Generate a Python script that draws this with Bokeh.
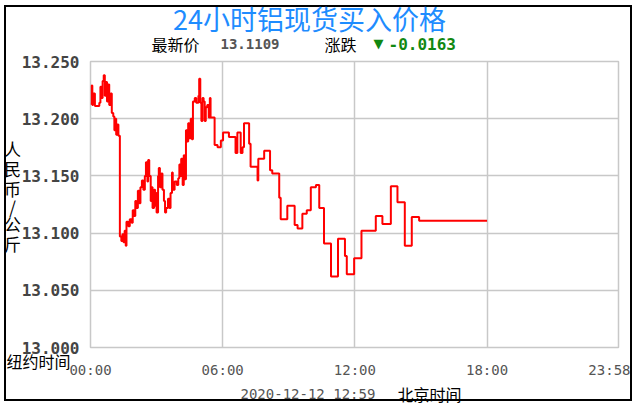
from bokeh.plotting import figure
from bokeh.models import Range1d, FixedTicker, Label, PrintfTickFormatter
from bokeh.embed import file_html
from bokeh.resources import INLINE

# ---- data (minutes since 00:00 New York time, price CNY/kg) ----
times = [0, 3, 5, 7, 12, 24, 27, 30, 33, 36, 39, 42, 45, 48, 51, 55, 58, 62, 65, 67, 70, 73, 76,
         80, 84, 87, 90, 93, 96, 98, 103, 107, 112, 115, 118, 122, 125, 129, 133, 136, 140, 144,
         148, 151, 155, 157, 160, 164, 166, 169, 173, 176, 177, 180, 184, 186, 189, 193, 196, 200,
         203, 206, 211, 215, 218, 222, 224, 229, 235, 239, 242, 245, 247, 251, 254, 256, 260, 264,
         266, 269, 273, 276, 279, 284, 288, 294, 296, 299, 302, 305, 308, 311, 314, 318, 322, 325,
         327, 338, 346, 355, 361, 377, 395, 400, 409, 414, 418, 432, 436, 455, 457, 473, 489, 495,
         514, 518, 536, 556, 564, 577, 589, 600, 614, 623, 636, 655, 674, 693, 698, 718, 738, 777,
         795, 818, 836, 856, 875, 895, 1080]
prices = [13.213, 13.229, 13.212, 13.222, 13.211, 13.214, 13.228, 13.218, 13.233, 13.238, 13.220,
          13.232, 13.215, 13.230, 13.212, 13.222, 13.205, 13.202, 13.190, 13.200, 13.186, 13.195,
          13.185, 13.097, 13.093, 13.099, 13.092, 13.102, 13.089, 13.110, 13.106, 13.112, 13.109,
          13.120, 13.115, 13.128, 13.122, 13.137, 13.126, 13.140, 13.146, 13.138, 13.150, 13.162,
          13.145, 13.164, 13.150, 13.128, 13.140, 13.122, 13.138, 13.124, 13.135, 13.118, 13.150,
          13.157, 13.140, 13.152, 13.138, 13.128, 13.118, 13.122, 13.130, 13.122, 13.135, 13.153,
          13.138, 13.145, 13.142, 13.148, 13.160, 13.150, 13.165, 13.142, 13.168, 13.147, 13.190,
          13.180, 13.196, 13.183, 13.200, 13.182, 13.215, 13.218, 13.214, 13.220, 13.235, 13.214,
          13.198, 13.218, 13.215, 13.198, 13.210, 13.212, 13.201, 13.218, 13.201, 13.177, 13.175,
          13.181, 13.188, 13.184, 13.170, 13.188, 13.170, 13.175, 13.196, 13.178, 13.158, 13.146,
          13.165, 13.172, 13.155, 13.152, 13.131, 13.112, 13.124, 13.107, 13.104, 13.117, 13.120,
          13.140, 13.142, 13.122, 13.091, 13.062, 13.095, 13.080, 13.064, 13.078, 13.102, 13.115,
          13.108, 13.141, 13.127, 13.089, 13.114, 13.1109, 13.1109]

y_ticks = [13.000, 13.050, 13.100, 13.150, 13.200, 13.250]
x_ticks = [0, 360, 720, 1080, 1438]
x_tick_labels = ["00:00", "06:00", "12:00", "18:00", "23:58"]

title_text = "24小时铝现货买入价格"
latest_label = "最新价"
latest_value = "13.1109"
change_label = "涨跌"
change_value = "-0.0163"
unit_chars = ["人", "民", "币", "/", "公", "斤"]
ny_time_label = "纽约时间"
timestamp = "2020-12-12 12:59"
bj_time_label = "北京时间"

CJK = "Noto Sans CJK SC"
MONO = "DejaVu Sans Mono"

# outer box at page (4,5)-(636,405) with a 2px border -> content 628 x 396 starting at (6,7)
W, H = 628, 396
FL, FR, FT, FB = 84, 16, 54, 56   # borders around the plotting frame

p = figure(width=W, height=H, x_range=Range1d(0, 1438), y_range=Range1d(13.0, 13.25),
           output_backend="svg", toolbar_location=None, tools="",
           min_border_left=FL, min_border_right=FR, min_border_top=FT, min_border_bottom=FB,
           background_fill_color="white", border_fill_color="white",
           styles={"border": "2px solid #000000", "margin-left": "4px", "margin-top": "5px"})

p.outline_line_color = "#c8c8c8"
p.outline_line_width = 1.5

p.step(times, prices, mode="after", line_color="#ff0000", line_width=2)

# axes
p.yaxis.ticker = FixedTicker(ticks=y_ticks)
p.yaxis.formatter = PrintfTickFormatter(format="%.3f")
p.yaxis.major_label_text_font = MONO
p.yaxis.major_label_text_font_style = "bold"
p.yaxis.major_label_text_font_size = "16px"
p.yaxis.major_label_text_color = "#444444"
p.yaxis.major_label_standoff = 5

p.xaxis.ticker = FixedTicker(ticks=x_ticks)
p.xaxis.major_label_overrides = {t: l for t, l in zip(x_ticks, x_tick_labels)}
p.xaxis.major_label_text_font = MONO
p.xaxis.major_label_text_font_size = "14px"
p.xaxis.major_label_text_color = "#555555"
p.xaxis.major_label_standoff = 8

for ax in (p.xaxis, p.yaxis):
    ax.axis_line_color = None
    ax.major_tick_line_color = None
    ax.minor_tick_line_color = None

p.xgrid.ticker = FixedTicker(ticks=x_ticks)
p.ygrid.ticker = FixedTicker(ticks=y_ticks)
for g in (p.xgrid, p.ygrid):
    g.grid_line_color = "#c8c8c8"
    g.grid_line_width = 1.5

# transparent text layer (separate root) laid over the whole chart, page coordinates
OW, OH = 636, 405
t = figure(width=OW, height=OH, x_range=Range1d(0, OW), y_range=Range1d(OH, 0),
           output_backend="svg", toolbar_location=None, tools="",
           min_border=0, min_border_left=0, min_border_right=0,
           min_border_top=0, min_border_bottom=0,
           x_axis_type=None, y_axis_type=None,
           background_fill_alpha=0, border_fill_alpha=0,
           styles={"margin-top": "-401px"})
t.outline_line_color = None
t.xgrid.visible = False
t.ygrid.visible = False


def lab(x, y, text, font, size, color, align="left", style="normal"):
    t.add_layout(Label(x=x, y=y, x_units="canvas", y_units="canvas", text=text,
                       text_font=font, text_font_size=size, text_color=color,
                       text_align=align, text_baseline="middle", text_font_style=style))


lab(309, 18, title_text, CJK, "27px", "#1e8cff", align="center")
lab(151, 43, latest_label, CJK, "16px", "#000000")
lab(220, 43, latest_value, MONO, "14px", "#555555", style="bold")
lab(324, 43, change_label, CJK, "16px", "#000000")
lab(373, 43, "▼", "DejaVu Sans", "13px", "#118811")
lab(388, 43, change_value, MONO, "16px", "#118811", style="bold")

for ch, cy in zip(unit_chars, [148, 168, 188, 206, 223, 243]):
    lab(12, cy, ch, CJK, "17px", "#000000", align="center")

lab(6, 360, ny_time_label, CJK, "16px", "#000000")
lab(240, 393, timestamp, MONO, "14px", "#555555")
lab(397, 393, bj_time_label, CJK, "16px", "#000000")

open("out.html", "w").write(file_html([p, t], INLINE))
